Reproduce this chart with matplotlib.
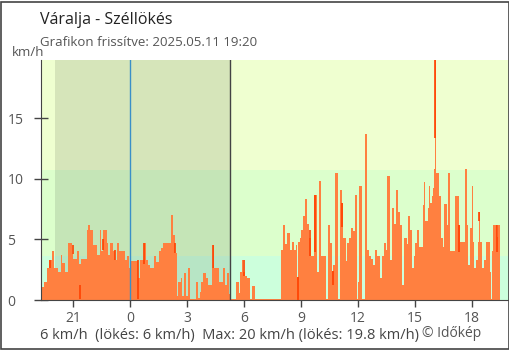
import matplotlib.pyplot as plt

plt.rcParams['font.family'] = ['Open Sans', 'DejaVu Sans']

# gust readings: start of each step (minutes from midnight) and value in km/h
seg_start = [-285, -282, -278, -272, -261, -257, -246, -240, -227, -219, -215, -206,
             -196, -183, -179, -166, -160, -156, -137, -133, -126, -118, -105, -95,
             -90, -84, -74, -69, -63, -55, -48, -40, -34, -17, -8, -2,
             4, 24, 33, 43, 50, 58, 64, 77, 83, 92, 98, 104,
             130, 136, 142, 148, 153, 161, 165, 170, 176, 182, 191, 207,
             214, 220, 224, 231, 239, 245, 258, 262, 266, 281, 294, 300,
             306, 313, 317, 335, 343, 347, 354, 358, 364, 368, 379, 385,
             396, 476, 484, 491, 497, 505, 512, 518, 524, 528, 531, 537,
             541, 547, 554, 558, 564, 571, 581, 592, 598, 604, 620, 624,
             631, 637, 641, 647, 656, 662, 668, 673, 681, 685, 692, 698,
             704, 711, 717, 721, 723, 732, 742, 748, 755, 761, 767, 774,
             780, 789, 795, 801, 807, 812, 820, 826, 835, 841, 847, 854,
             860, 866, 875, 879, 885, 892, 896, 900, 906, 913, 925, 929,
             933, 940, 944, 948, 953, 957, 961, 963, 967, 976, 982, 988,
             993, 1001, 1005, 1012, 1026, 1039, 1043, 1058, 1064, 1068, 1075, 1079,
             1083, 1087, 1092, 1098, 1102, 1106, 1111, 1117, 1123, 1136, 1140, 1144,
             1146, 1159, 1163]
seg_end = 1167
gust = [1.8, 0.5, 1.1, 1.5, 2.6, 3.3, 4.05, 2.6, 2.3, 3.7, 3.05, 2.3,
        4.7, 3.8, 3.4, 4.05, 3.0, 3.4, 5.8, 6.2, 5.8, 4.5, 3.7, 5.8,
        4.05, 5.8, 4.7, 3.7, 4.7, 4.05, 3.3, 4.7, 4.05, 3.3, 3.6, 2.6,
        3.2, 1.8, 3.3, 4.7, 3.3, 2.9, 2.6, 3.6, 3.1, 4.05, 4.3, 4.7,
        7.0, 5.4, 3.9, 0.3, 1.5, 1.8, 0.3, 2.2, 0.3, 2.6, 0.1, 1.5,
        0.2, 0.7, 1.5, 2.2, 1.8, 1.2, 2.6, 4.5, 2.6, 1.5, 2.6, 1.2,
        2.2, 0.5, 0.1, 1.5, 0.6, 2.3, 3.3, 2.3, 2.0, 1.8, 0.1, 1.15,
        0.1, 4.1, 6.2, 4.6, 5.5, 4.1, 4.8, 4.1, 4.5, 1.9, 4.8, 5.1,
        5.8, 6.9, 8.3, 6.3, 5.1, 3.6, 8.7, 2.3, 9.8, 3.6, 0.1, 6.2,
        4.7, 2.4, 2.9, 10.5, 0.1, 9.1, 8.0, 5.1, 3.2, 4.7, 5.1, 5.95,
        5.7, 8.7, 0.1, 1.5, 9.4, 0.1, 13.7, 4.1, 3.6, 3.4, 2.9, 4.1,
        3.6, 1.8, 3.6, 4.7, 4.1, 10.2, 3.3, 7.6, 6.3, 9.1, 7.3, 6.2,
        1.2, 5.1, 4.6, 6.9, 5.8, 2.6, 3.6, 4.7, 5.8, 4.35, 7.8, 9.7,
        6.55, 7.6, 9.4, 8.0, 8.6, 9.2, 10.8, 19.8, 10.5, 8.6, 5.1, 4.4,
        7.9, 6.2, 10.5, 4.05, 8.6, 6.2, 4.75, 10.8, 6.2, 2.9, 5.9, 9.4,
        4.75, 2.6, 3.3, 4.75, 7.3, 4.75, 2.6, 3.3, 4.75, 2.3, 0.1, 4.05,
        6.2, 5.2, 6.2]

# darker marks inside the bars
red_t = [-254, -181, -159, -84, -46, 25, 45, 142, 263, 360, 530, 567, 585, 640, 670,
         963, 1040, 1102, 1160]
red_hi = [3.3, 4.5, 1.2, 5.0, 4.1, 3.3, 4.7, 4.7, 4.5, 3.3, 1.9, 5.8, 8.7, 2.4, 8.0,
          19.8, 6.2, 7.3, 6.2]
red_lo = [2.6, 3.8, 0.1, 4.1, 3.3, 0.1, 3.0, 3.9, 2.6, 2.0, 0.0, 3.6, 4.0, 1.2, 6.0,
          13.4, 4.0, 6.5, 4.0]

tick_pos = [-180, 0, 180, 360, 540, 720, 900, 1080]
tick_lab = ['21', '0', '3', '6', '9', '12', '15', '18']
bands = [(0, 3.6, '#ccffdc'), (3.6, 10.7, '#dcffcc'), (10.7, 30, '#efffd0')]
sunset, sunrise = -237, 317

fig = plt.figure(figsize=(5.1, 3.5), dpi=100)
ax = fig.add_axes([40.7 / 510, 1 - 300 / 350, (509 - 40.7) / 510, 240 / 350])

for lo, hi, c in bands:
    ax.axhspan(lo, hi, color=c, lw=0, zorder=0)
ax.axvspan(sunset, sunrise, color='black', alpha=0.1, lw=0, zorder=0.5)

widths = [b - a for a, b in zip(seg_start, seg_start[1:] + [seg_end])]
ax.bar(seg_start, gust, width=widths, align='edge', color='#ff8040', lw=0, zorder=2)
ax.vlines(red_t, red_lo, red_hi, color='#ff4000', lw=1.2, zorder=3)

ax.axvline(0, color='#3a8fc8', lw=1, zorder=4)
ax.axvline(sunrise, color='#444444', lw=1, zorder=4)

ax.set_xlim(-282, 1197)
ax.set_ylim(0, max(gust))
ax.set_xticks(tick_pos, tick_lab)
ax.set_yticks([0, 5, 10, 15])
ax.tick_params(axis='y', direction='inout', length=10, width=1, color='#444444',
               labelsize=10, labelcolor='#555555', pad=19)
for lab in ax.get_yticklabels():
    lab.set_horizontalalignment('left')
ax.tick_params(axis='x', direction='out', length=5, width=1, color='#444444',
               labelsize=10, labelcolor='#555555', pad=3)
ax.spines['top'].set_visible(False)
for s in ['left', 'bottom', 'right']:
    ax.spines[s].set_color('#444444')

fig.text(40 / 510, 1 - 24 / 350, 'Váralja - Széllökés', fontsize=11.5, color='#222222')
fig.text(40 / 510, 1 - 46 / 350, 'Grafikon frissítve: 2025.05.11 19:20', fontsize=9.5,
         color='#555555')
fig.text(12 / 510, 1 - 56 / 350, 'km/h', fontsize=9.5, color='#555555')
fig.text(40 / 510, 1 - 339 / 350, '6 km/h  (lökés: 6 km/h)  Max: 20 km/h (lökés: 19.8 km/h)',
         fontsize=10.5, color='#444444')
fig.text(422 / 510, 1 - 337 / 350, '© Időkép', fontsize=10, color='#555555')

# frame round the whole picture
fig.add_artist(plt.Rectangle((0.5 / 510, 1.5 / 350), 508.5 / 510, 347 / 350,
                             transform=fig.transFigure, fill=False,
                             ec='#444444', lw=1.2))

fig.savefig('out.png', dpi=100)
